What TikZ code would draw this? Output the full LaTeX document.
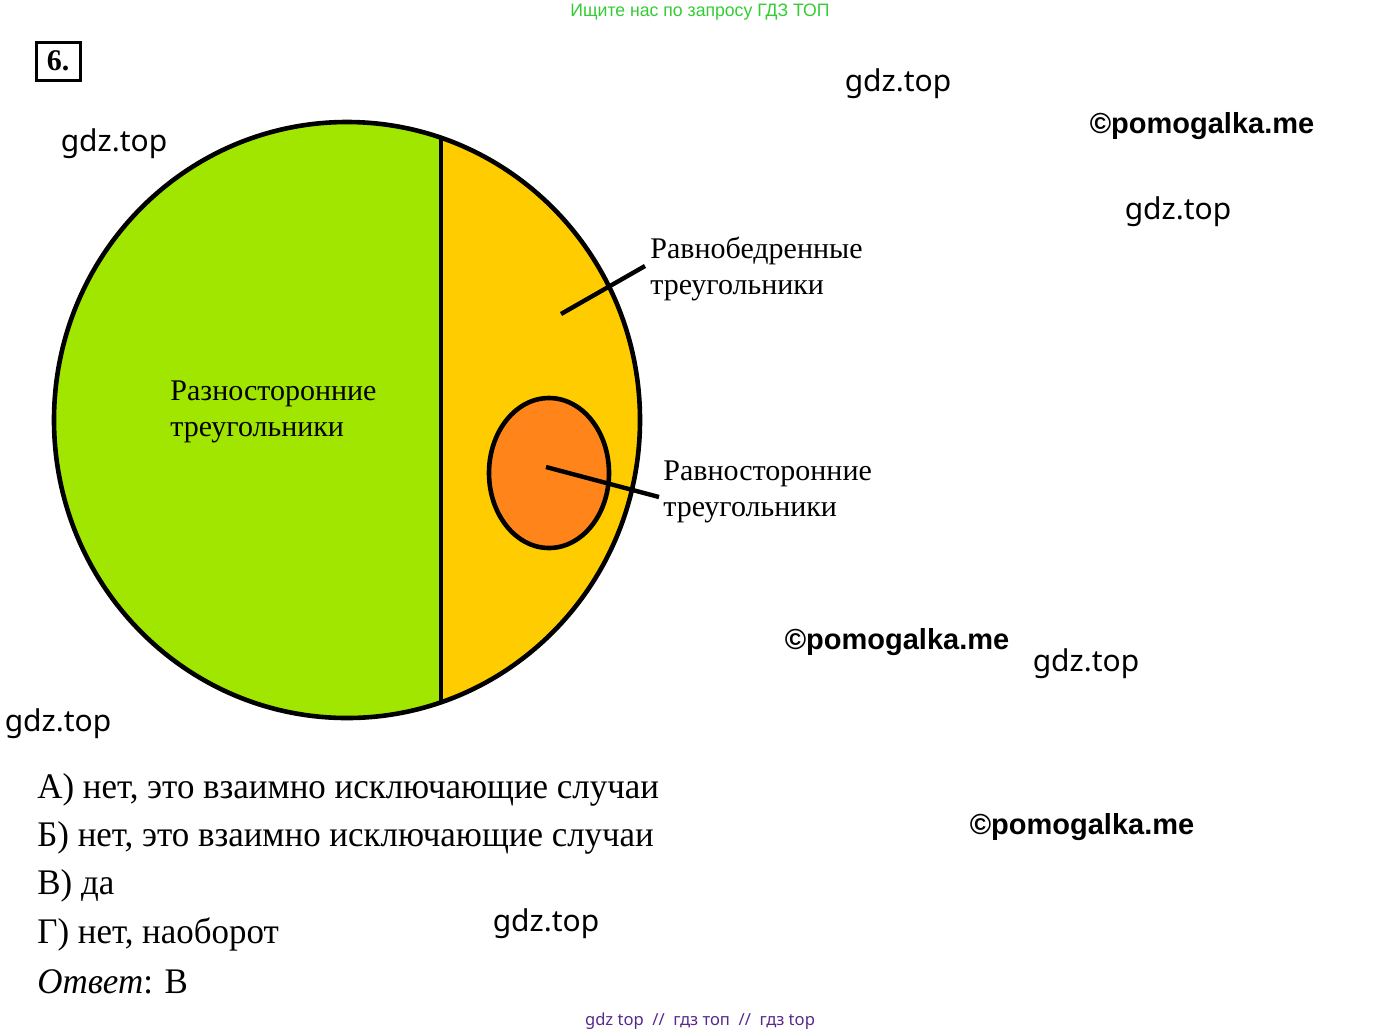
\documentclass[tikz,border=0pt]{standalone}
\usepackage{fontspec}
\setmainfont{Liberation Serif}
\newfontfamily\wmsans{Noto Sans}
\newfontfamily\pmfont{Liberation Sans}
\newfontfamily\hdfont{Liberation Sans}
\usetikzlibrary{calc}
\definecolor{lgreen}{RGB}{160,230,0}
\definecolor{lyellow}{RGB}{255,204,0}
\definecolor{lorange}{RGB}{255,132,25}
\definecolor{hgreen}{RGB}{51,204,51}
\definecolor{fpurple}{RGB}{88,40,140}
\tikzset{
  outline/.style={draw=black,line width=2.3pt},
  pointer/.style={draw=black,line width=2.2pt},
  lbl/.style={anchor=west,align=left,inner sep=0pt,font=\fontsize{15}{18}\selectfont},
  gdz/.style={inner sep=0pt,font=\wmsans\fontsize{15}{18}\selectfont},
  pomo/.style={inner sep=0pt,font=\pmfont\bfseries\fontsize{14.5}{16}\selectfont},
  ans/.style={anchor=west,inner sep=0pt,font=\fontsize{18}{20}\selectfont},
}
\begin{document}
\begin{tikzpicture}[x=0.5pt,y=-0.5pt]
\useasboundingbox (0,0) rectangle (1400,1035);
% header
\node[inner sep=0pt,text=hgreen,font=\hdfont\fontsize{9}{10}\selectfont] (hdr) at (700,12) {\scalebox{0.98}[1]{Ищите нас по запросу ГДЗ ТОП}};
% number box
\node[draw=black,line width=1.5pt,minimum width=22pt,minimum height=19pt,inner sep=0pt,font=\bfseries\fontsize{15}{16}\selectfont] (num) at (58,61) {6.};
% big circle
\fill[lgreen] (347,420) ellipse [x radius=293,y radius=298];
\begin{scope}
\clip (441,0) rectangle (700,800);
\fill[lyellow] (347,420) ellipse [x radius=293,y radius=298];
\end{scope}
\coordinate (vtop) at (441,138);
\coordinate (vbot) at (441,702);
\draw[line width=2.3pt] (vtop) -- (vbot);
\draw[outline] (347,420) ellipse [x radius=293,y radius=298];
% small ellipse
\draw[outline,fill=lorange] (549,473) ellipse [x radius=60,y radius=75];
% labels
\node[lbl] (inner) at (170,412) {Разносторонние\\треугольники};
\node[lbl] (iso) at (650,269) {Равнобедренные\\треугольники};
\node[lbl] (equi) at (663,492) {Равносторонние\\треугольники};
% pointers
\coordinate (p1a) at (561,314);
\coordinate (p1b) at (645,266);
\coordinate (p2a) at (546,467);
\coordinate (p2b) at (659,497);
\draw[pointer] (p1a) -- (p1b);
\draw[pointer] (p2a) -- (p2b);
% answers
\node[ans] (a1) at (37,790) {\scalebox{0.97}[1]{А) нет, это взаимно исключающие случаи}};
\node[ans] (a2) at (37,838) {\scalebox{0.97}[1]{Б) нет, это взаимно исключающие случаи}};
\node[ans] (a3) at (37,886) {\scalebox{0.97}[1]{В) да}};
\node[ans] (a4) at (37,934) {\scalebox{0.97}[1]{Г) нет, наоборот}};
\node[ans] (a5) at (37,982) {\scalebox{0.97}[1]{\textit{Ответ}: В}};
% watermarks
\node[gdz] (g1) at (898,84) {gdz.top};
\node[gdz] (g2) at (114,144) {gdz.top};
\node[gdz] (g3) at (1178,212) {gdz.top};
\node[gdz] (g4) at (1086,664) {gdz.top};
\node[gdz] (g5) at (58,724) {gdz.top};
\node[gdz] (g6) at (546,924) {gdz.top};
\node[pomo] (pm1) at (1202,126) {©pomogalka.me};
\node[pomo] (pm2) at (897,642) {©pomogalka.me};
\node[pomo] (pm3) at (1082,827) {©pomogalka.me};
% footer
\node[inner sep=0pt,text=fpurple,font=\wmsans\fontsize{8.3}{10}\selectfont] (ftr) at (700,1021) {gdz top \ // \ гдз топ \ // \ гдз top};
\end{tikzpicture}
\end{document}
